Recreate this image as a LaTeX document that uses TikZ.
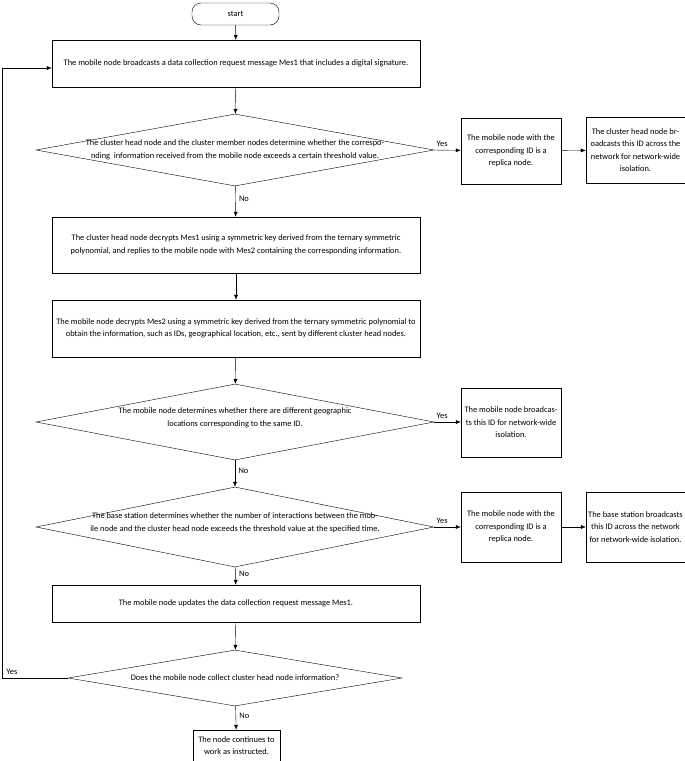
\documentclass[tikz,border=0pt]{standalone}
\usepackage{fontspec}
\setmainfont{Carlito}
\usetikzlibrary{shapes.geometric,arrows.meta}

\begin{document}
\begin{tikzpicture}[x=1pt,y=1pt,yscale=-1,
    every node/.style={font=\fontsize{8.4}{12.5}\selectfont},
    proc/.style={draw,align=center,inner sep=1pt},
    dec/.style={draw,diamond,inner sep=0pt},
    arr/.style={-{Latex[length=5pt,width=4pt]}}]
    \useasboundingbox (0,0) rectangle (685,761);

    \node [draw,rounded corners=9pt,minimum width=87pt,minimum height=22pt] (start) at (235.5,14) {start};
    \node [proc,minimum width=368pt,minimum height=47pt] (mesA) at (236,63.5) {The mobile node broadcasts a data collection request message Mes1 that includes a digital signature.};
    \node [dec,minimum width=398pt,minimum height=72pt] (decA) at (235,150) {};
    \node [align=center] (decAt) at (235,150) {The cluster head node and the cluster member nodes determine whether the correspo-\\nding\ \ information received from the mobile node exceeds a certain threshold value.};
    \node [proc,minimum width=100pt,minimum height=66pt] (repA) at (511,151) {The mobile node with the\\corresponding ID is a\\replica node.};
    \node [proc,minimum width=99pt,minimum height=66pt] (isoA) at (635.5,150) {The cluster head node br-\\oadcasts this ID across the\\network for network-wide\\isolation.};
    \node [proc,minimum width=368pt,minimum height=56pt] (decrA) at (236,245) {The cluster head node decrypts Mes1 using a symmetric key derived from the ternary symmetric\\polynomial, and replies to the mobile node with Mes2 containing the corresponding information.};
    \node [proc,minimum width=368pt,minimum height=57pt] (decrB) at (236,328.5) {The mobile node decrypts Mes2 using a symmetric key derived from the ternary symmetric polynomial to\\obtain the information, such as IDs, geographical location, etc., sent by different cluster head nodes.};
    \node [dec,minimum width=398pt,minimum height=76pt] (decB) at (235,422) {};
    \node [align=center] (decBt) at (235,418) {The mobile node determines whether there are different geographic\\locations corresponding to the same ID.};
    \node [proc,minimum width=100pt,minimum height=69pt] (isoB) at (511,422.5) {The mobile node broadcas-\\ts this ID for network-wide\\isolation.};
    \node [dec,minimum width=398pt,minimum height=80pt] (decC) at (235,527) {};
    \node [align=center] (decCt) at (235,523) {The base station determines whether the number of interactions between the mob-\\ile node and the cluster head node exceeds the threshold value at the specified time.};
    \node [proc,minimum width=100pt,minimum height=70pt] (repC) at (511,527) {The mobile node with the\\corresponding ID is a\\replica node.};
    \node [proc,minimum width=99pt,minimum height=70pt] (isoC) at (635.5,527) {The base station broadcasts\\this ID across the network\\for network-wide isolation.};
    \node [proc,minimum width=368pt,minimum height=37pt] (upd) at (236,603.5) {The mobile node updates the data collection request message Mes1.};
    \node [dec,minimum width=334pt,minimum height=56pt] (decD) at (235,678) {};
    \node (decDt) at (235,678) {Does the mobile node collect cluster head node information?};
    \node [proc,minimum width=87pt,minimum height=31pt] (fin) at (236.5,745.5) {The node continues to\\work as instructed.};
    \coordinate (loopA) at (2,678);
    \coordinate (loopB) at (2,68);

    \draw [arr] (start) -- (mesA);
    \draw [arr] (mesA) -- (decA);
    \draw [arr] (decA) -- node [right,pos=0.4] {No} (decrA);
    \draw [arr] (decA.east) -- node [above,pos=0.3] {Yes} (repA);
    \draw [arr] (repA) -- (isoA);
    \draw [arr] (decrA) -- (decrB);
    \draw [arr] (decrB) -- (decB);
    \draw [arr] (decB.east) -- node [above,pos=0.3] {Yes} (isoB.west |- decB.east);
    \draw [arr] (decB) -- node [right,pos=0.4] {No} (decC);
    \draw [arr] (decC.east) -- node [above,pos=0.3] {Yes} (repC);
    \draw [arr] (repC) -- (isoC);
    \draw [arr] (decC) -- node [right,pos=0.4] {No} (upd);
    \draw [arr] (upd) -- (decD);
    \draw [arr] (decD) -- node [right,pos=0.4] {No} (fin);
    \draw [arr] (decD.west) -- node [above,pos=0.85] {Yes} (loopA) -- (loopB) -- (mesA.west |- loopB);
\end{tikzpicture}
\end{document}
